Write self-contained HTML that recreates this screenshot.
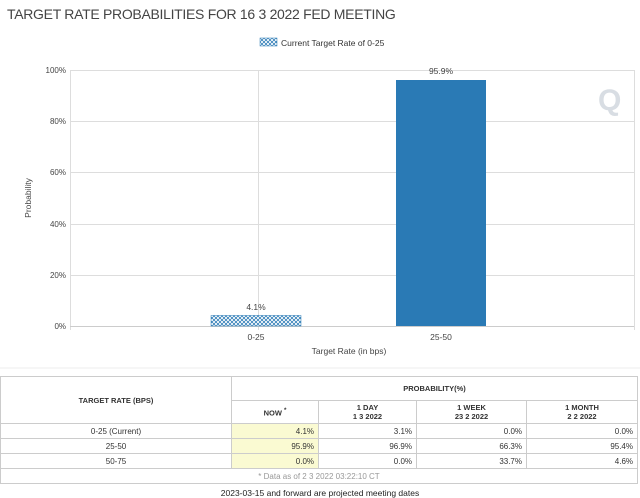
<!DOCTYPE html>
<html><head><style>
body{margin:0;width:640px;height:498px;background:#fff;font-family:"Liberation Sans",Arial,sans-serif;position:relative;overflow:hidden;color:#333}
.a{position:absolute;white-space:nowrap}
table{border-collapse:collapse;position:absolute;left:0;top:376px;width:638px;font-size:8px;table-layout:fixed}
td{border:1px solid #ccc;padding:0 4px;height:14px;text-align:right}
.c{text-align:center}
.h{font-weight:bold;text-align:center;font-size:7.5px}
.y{background:#fafad2}
</style></head><body>
<div class="a" style="left:7px;top:6px;font-size:14px;color:#444;letter-spacing:-0.3px">TARGET RATE PROBABILITIES FOR 16 3 2022 FED MEETING</div>
<svg class="a" style="left:0;top:0" width="640" height="370">
<defs><pattern id="p" width="4" height="4" patternUnits="userSpaceOnUse"><rect width="4" height="4" fill="#2a7ab5"/><path d="M0 0L4 4M4 0L0 4" stroke="#fff" stroke-width="0.9"/></pattern></defs>
<rect x="260" y="38" width="17" height="8" fill="url(#p)" stroke="#2a7ab5" stroke-width="0.5"/>
<text x="281" y="46" font-size="8.5" fill="#333">Current Target Rate of 0-25</text>
<g stroke="#ddd" stroke-width="1">
<line x1="70" y1="70.5" x2="634" y2="70.5"/><line x1="70" y1="121.5" x2="634" y2="121.5"/><line x1="70" y1="172.5" x2="634" y2="172.5"/><line x1="70" y1="224.5" x2="634" y2="224.5"/><line x1="70" y1="275.5" x2="634" y2="275.5"/>
<line x1="258.5" y1="70" x2="258.5" y2="330"/><line x1="634.5" y1="70" x2="634.5" y2="330"/><line x1="70.5" y1="70" x2="70.5" y2="330"/>
</g>
<line x1="70" y1="326.5" x2="634" y2="326.5" stroke="#ccc"/>
<g font-size="8" fill="#444" text-anchor="end">
<text x="66" y="73">100%</text><text x="66" y="124">80%</text><text x="66" y="175">60%</text><text x="66" y="227">40%</text><text x="66" y="278">20%</text><text x="66" y="329">0%</text></g>
<rect x="211" y="315.5" width="90" height="10.5" fill="url(#p)" stroke="#2a7ab5" stroke-width="0.5"/>
<rect x="396" y="80" width="90" height="246" fill="#2a7ab5"/>
<g font-size="8.5" fill="#444" text-anchor="middle">
<text x="256" y="310">4.1%</text><text x="441" y="74">95.9%</text>
<text x="256" y="340">0-25</text><text x="441" y="340">25-50</text>
<text x="349" y="354">Target Rate (in bps)</text>
<text transform="translate(31,198) rotate(-90)">Probability</text></g>
<text x="598" y="110" font-size="30" font-weight="bold" fill="#d8dde3">Q</text>
<line x1="0" y1="368" x2="640" y2="368" stroke="#eee"/>
</svg>
<table>
<colgroup><col style="width:231px"><col style="width:87px"><col style="width:98px"><col style="width:110px"><col></colgroup>
<tr><td class="h" rowspan="2" style="height:46px">TARGET RATE (BPS)</td><td class="h" colspan="4" style="height:23px">PROBABILITY(%)</td></tr>
<tr><td class="h" style="height:22px">NOW <sup>*</sup></td><td class="h">1 DAY<br>1 3 2022</td><td class="h">1 WEEK<br>23 2 2022</td><td class="h">1 MONTH<br>2 2 2022</td></tr>
<tr><td class="c">0-25 (Current)</td><td class="y">4.1%</td><td>3.1%</td><td>0.0%</td><td>0.0%</td></tr>
<tr><td class="c">25-50</td><td class="y">95.9%</td><td>96.9%</td><td>66.3%</td><td>95.4%</td></tr>
<tr><td class="c">50-75</td><td class="y">0.0%</td><td>0.0%</td><td>33.7%</td><td>4.6%</td></tr>
<tr><td colspan="5" class="c" style="color:#999">* Data as of 2 3 2022 03:22:10 CT</td></tr>
</table>
<div class="a" style="left:0;width:640px;text-align:center;top:488px;font-size:8.5px;color:#222">2023-03-15 and forward are projected meeting dates</div>
</body></html>
